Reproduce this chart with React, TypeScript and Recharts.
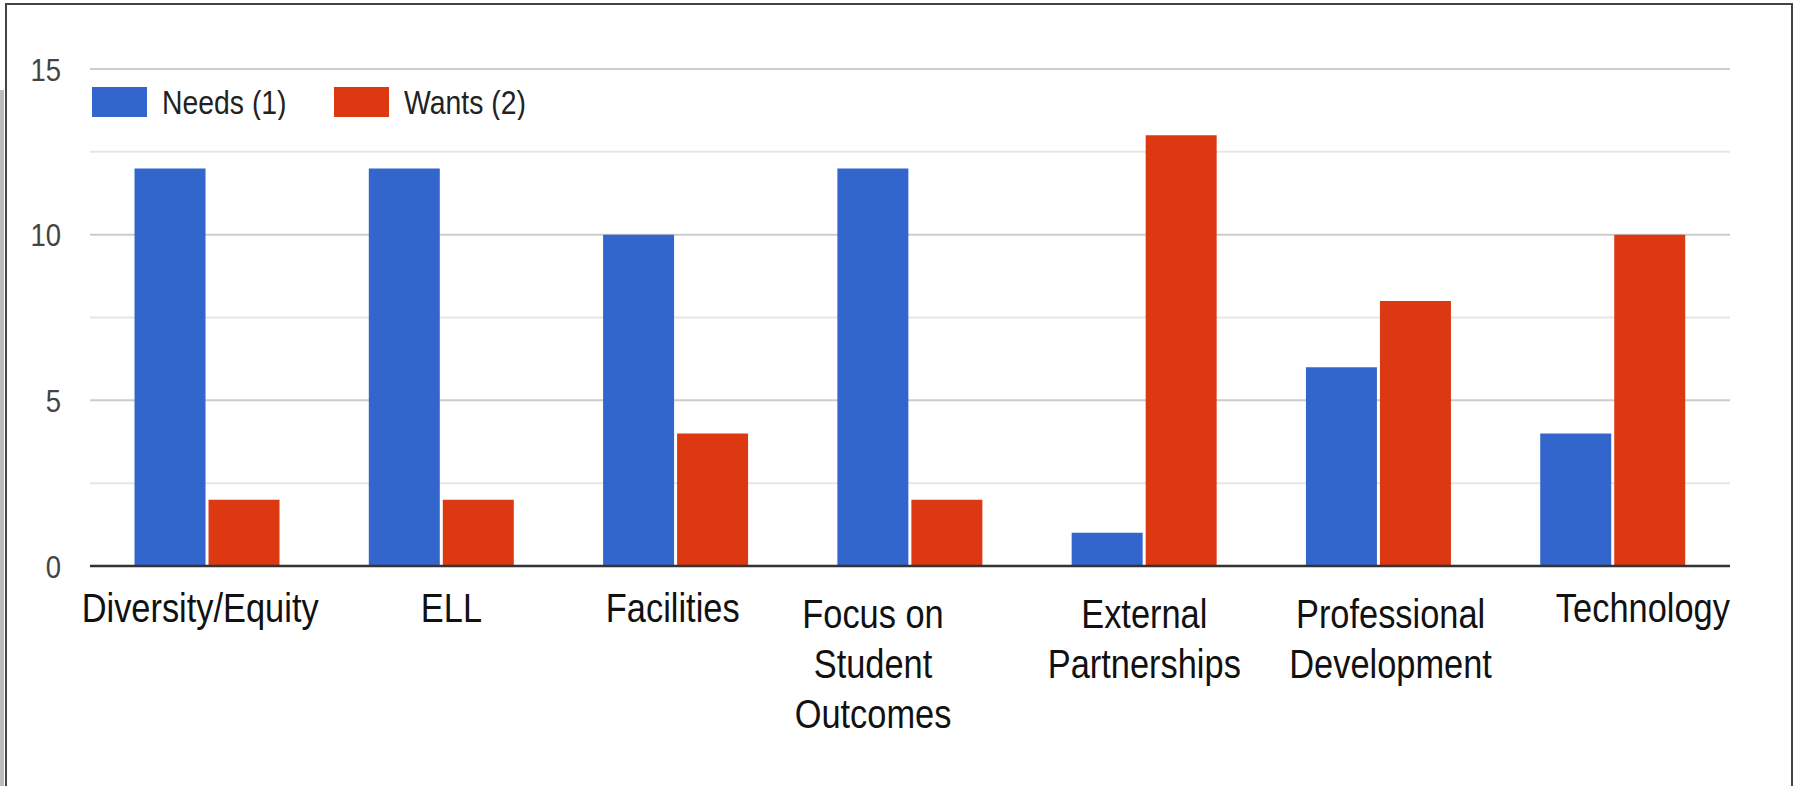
import React from "react";
import {
  BarChart,
  Bar,
  XAxis,
  YAxis,
  CartesianGrid,
  Legend,
} from "recharts";

const categories = [
  "Diversity/Equity",
  "ELL",
  "Facilities",
  "Focus on Student Outcomes",
  "External Partnerships",
  "Professional Development",
  "Technology",
];
const needs = [12, 12, 10, 12, 1, 6, 4];
const wants = [2, 2, 4, 2, 13, 8, 10];
const tickLines = [
  ["Diversity/Equity"],
  ["ELL"],
  ["Facilities"],
  ["Focus on", "Student", "Outcomes"],
  ["External", "Partnerships"],
  ["Professional", "Development"],
  ["Technology"],
];
// every 2.5 gets a gridline, only multiples of 5 get a label
const yTicks = [0, 2.5, 5, 7.5, 10, 12.5, 15];

const data = categories.map((name, i) => ({
  name,
  needs: needs[i],
  wants: wants[i],
}));

const COLORS = { needs: "#3366cc", wants: "#dc3912" };
const SQUEEZE = 0.86; // text in the screenshot is a bit narrow
const FONT = "Liberation Sans, Arial, sans-serif";

// labels in the original are nudged a little off the category centres
const LABEL_NUDGE = [-7, 10, -3, -37, 0, 12, 30];

const CategoryTick = (props: any) => {
  const { x, y, payload } = props;
  const idx = props.index ?? payload.index ?? 0;
  const lines = tickLines[idx] || [payload.value];
  const first = lines.length > 1 ? 62 : 56;
  return (
    <g transform={`translate(${x + LABEL_NUDGE[idx]},${y}) scale(${SQUEEZE},1)`}>
      <text textAnchor="middle" fill="#111" fontSize={40} fontFamily={FONT}>
        {lines.map((l: string, i: number) => (
          <tspan key={i} x={0} y={first + i * 50}>
            {l}
          </tspan>
        ))}
      </text>
    </g>
  );
};

const ValueTick = (props: any) => {
  const { x, y, payload } = props;
  if (payload.value % 5 !== 0) return <g />;
  return (
    <g transform={`translate(${x},${y}) scale(${SQUEEZE},1)`}>
      <text
        textAnchor="end"
        dy="0.36em"
        fill="#444"
        fontSize={32}
        fontFamily={FONT}
      >
        {payload.value}
      </text>
    </g>
  );
};

const GridLine = (props: any) => {
  const { x1, x2, y1, y2, index } = props;
  const minor = index % 2 === 1;
  return (
    <line
      x1={x1}
      x2={x2}
      y1={y1}
      y2={y2}
      stroke={minor ? "#e6e6e6" : "#cccccc"}
      strokeWidth={2}
    />
  );
};

const LegendContent = (props: any) => {
  const items = props.payload || [];
  return (
    <svg width={500} height={40}>
      {items.map((item: any, i: number) => (
        <g key={item.value} transform={`translate(${i * 242},0)`}>
          <rect x={0} y={7} width={55} height={30} fill={item.color} />
          <g transform={`translate(70,22) scale(${SQUEEZE},1)`}>
            <text dy="0.36em" fill="#222" fontSize={33} fontFamily={FONT}>
              {item.value}
            </text>
          </g>
        </g>
      ))}
    </svg>
  );
};

const Frame = () => (
  <>
    <div style={{ position: "absolute", left: 5, top: 3, width: 1788, height: 2, background: "#444" }} />
    <div style={{ position: "absolute", left: 5, top: 3, width: 2, height: 783, background: "#444" }} />
    <div style={{ position: "absolute", left: 1791, top: 3, width: 2, height: 783, background: "#444" }} />
    <div style={{ position: "absolute", left: 0, top: 90, width: 4, height: 696, background: "#bbbbbb" }} />
  </>
);

const App: React.FC = () => {
  return (
    <div
      style={{
        position: "absolute",
        left: 0,
        top: 0,
        width: 1794,
        height: 786,
        background: "#fff",
        overflow: "hidden",
      }}
    >
      <BarChart
        width={1794}
        height={786}
        data={data}
        margin={{ top: 69, right: 64, left: 0, bottom: 40 }}
        barCategoryGap="19%"
        barGap={3}
      >
        <CartesianGrid vertical={false} horizontal={GridLine} />
        <XAxis
          dataKey="name"
          interval={0}
          height={180}
          tickLine={false}
          tickSize={0}
          tickMargin={0}
          axisLine={{ stroke: "#333", strokeWidth: 2.5 }}
          tick={<CategoryTick />}
        />
        <YAxis
          width={90}
          domain={[0, 15]}
          ticks={yTicks}
          interval={0}
          axisLine={false}
          tickLine={false}
          tickSize={0}
          tickMargin={29}
          tick={<ValueTick />}
        />
        <Legend
          layout="horizontal"
          verticalAlign="middle"
          align="center"
          wrapperStyle={{ top: 80, left: 92, width: 500, height: 40 }}
          content={<LegendContent />}
        />
        <Bar
          dataKey="needs"
          name="Needs (1)"
          fill={COLORS.needs}
          isAnimationActive={false}
        />
        <Bar
          dataKey="wants"
          name="Wants (2)"
          fill={COLORS.wants}
          isAnimationActive={false}
        />
      </BarChart>
      <Frame />
    </div>
  );
};

export default App;
